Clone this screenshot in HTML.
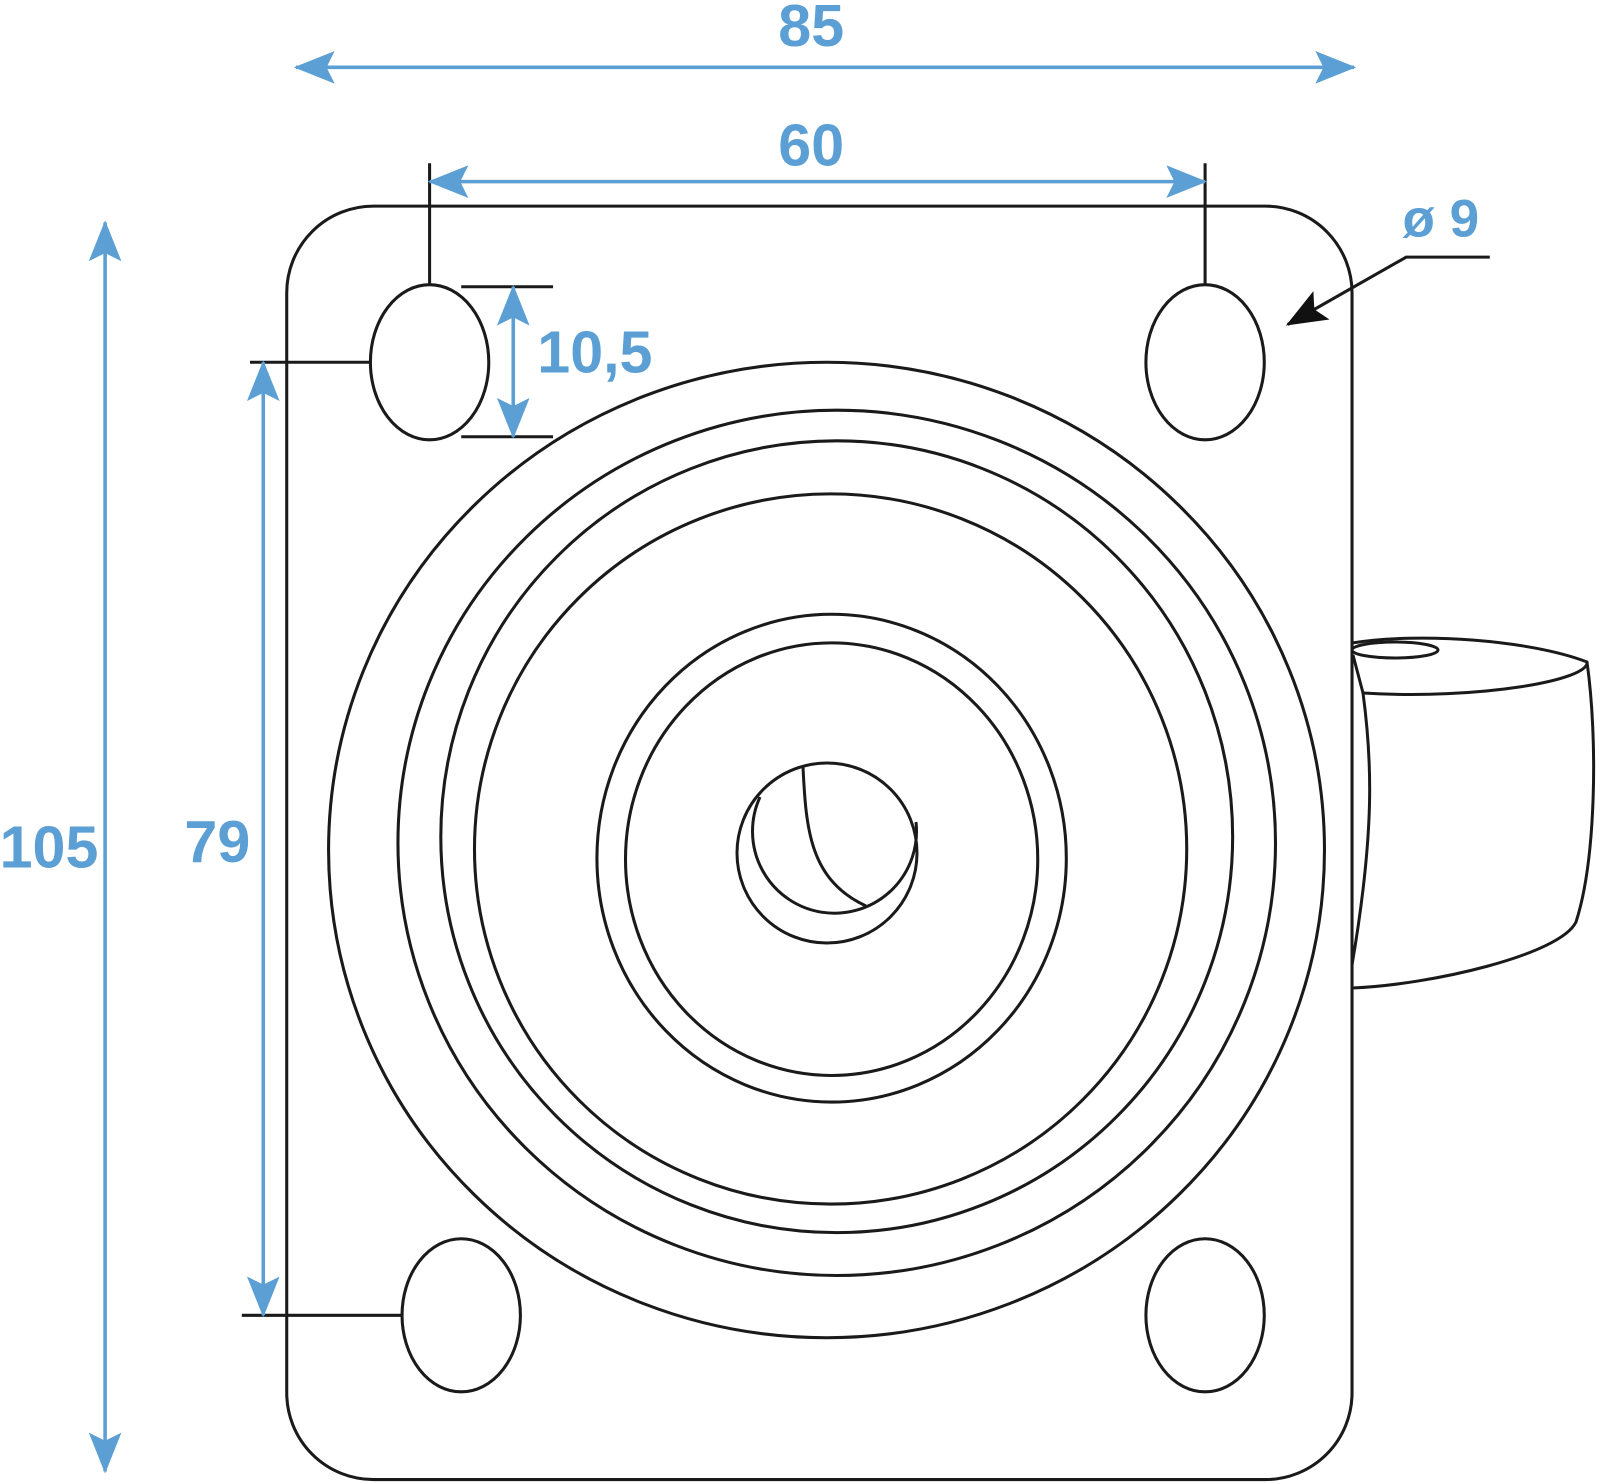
<!DOCTYPE html>
<html><head><meta charset="utf-8"><style>html,body{margin:0;padding:0;background:#fff}svg{display:block}</style></head>
<body>
<svg width="1600" height="1484" viewBox="0 0 1600 1484" xmlns="http://www.w3.org/2000/svg">
<defs>
<marker id="a" viewBox="0 0 40 32" refX="38" refY="16" markerWidth="40" markerHeight="32" markerUnits="userSpaceOnUse" orient="auto-start-reverse">
<path d="M0,0 L40,16 L0,32 L8,16 Z" fill="#5b9fd4"/></marker>
<marker id="k" viewBox="0 0 40 32" refX="38" refY="16" markerWidth="40" markerHeight="32" markerUnits="userSpaceOnUse" orient="auto">
<path d="M0,0 L40,16 L0,32 L8,16 Z" fill="#111"/></marker>
</defs>
<g transform="scale(1.0204)" fill="none" stroke="#1a1a1a" stroke-width="3">
<rect x="281" y="202" width="1044" height="1248" rx="85" ry="85"/>
<ellipse cx="421" cy="355" rx="58" ry="76"/>
<ellipse cx="1181" cy="355" rx="58" ry="76"/>
<ellipse cx="452" cy="1289" rx="58" ry="75"/>
<ellipse cx="1181" cy="1289" rx="58" ry="75"/>
<ellipse cx="810" cy="833" rx="488" ry="478"/>
<ellipse cx="820" cy="826" rx="430" ry="424"/>
<ellipse cx="820" cy="820" rx="388" ry="388"/>
<ellipse cx="814" cy="832" rx="349" ry="348"/>
<ellipse cx="815" cy="841" rx="230" ry="239"/>
<ellipse cx="815" cy="842" rx="202" ry="212"/>
<line x1="421" y1="160" x2="421" y2="280"/>
<line x1="1181" y1="160" x2="1181" y2="280"/>
<line x1="245" y1="355" x2="363" y2="355"/>
<line x1="237" y1="1289" x2="394" y2="1289"/>
<line x1="452" y1="281" x2="542" y2="281"/>
<line x1="452" y1="428" x2="542" y2="428"/>
<polyline points="1460,252 1378,252 1262,318" marker-end="url(#k)"/>
</g>
<g fill="none" stroke="#1a1a1a" stroke-width="3">
<circle cx="827" cy="853" r="90"/>
<path d="M760,797 A82,82 0 1 0 916,822"/>
<path d="M803,767 C806,830 810,880 866,906"/>
<path d="M1352,643 C1420,632 1530,640 1587,662 C1590,680 1480,700 1363,693"/>
<ellipse cx="1395" cy="650" rx="43" ry="8"/>
<path d="M1353,655 L1363,693 C1372,760 1375,830 1352,965"/>
<path d="M1587,662 C1598,740 1596,860 1576,922 C1560,955 1430,985 1352,988"/>
</g>
<g transform="scale(1.0204)" stroke="#5b9fd4" stroke-width="3.5" fill="none">
<line x1="290" y1="66" x2="1327" y2="66" marker-start="url(#a)" marker-end="url(#a)"/>
<line x1="421" y1="178" x2="1181" y2="178" marker-start="url(#a)" marker-end="url(#a)"/>
<line x1="103" y1="218" x2="103" y2="1442" marker-start="url(#a)" marker-end="url(#a)"/>
<line x1="258" y1="355" x2="258" y2="1289" marker-start="url(#a)" marker-end="url(#a)"/>
<line x1="503" y1="281" x2="503" y2="428" marker-start="url(#a)" marker-end="url(#a)"/>
</g>
<g transform="scale(1.0204)" fill="#5b9fd4" font-family="'Liberation Sans',sans-serif" font-weight="bold" font-size="58" text-anchor="middle">
<text x="795" y="45">85</text>
<text x="795" y="162">60</text>
<text x="48" y="850">105</text>
<text x="213" y="845">79</text>
<text x="583" y="365">10,5</text>
<text x="1412" y="232" font-size="52">ø 9</text>
</g>
</svg>
</body></html>
